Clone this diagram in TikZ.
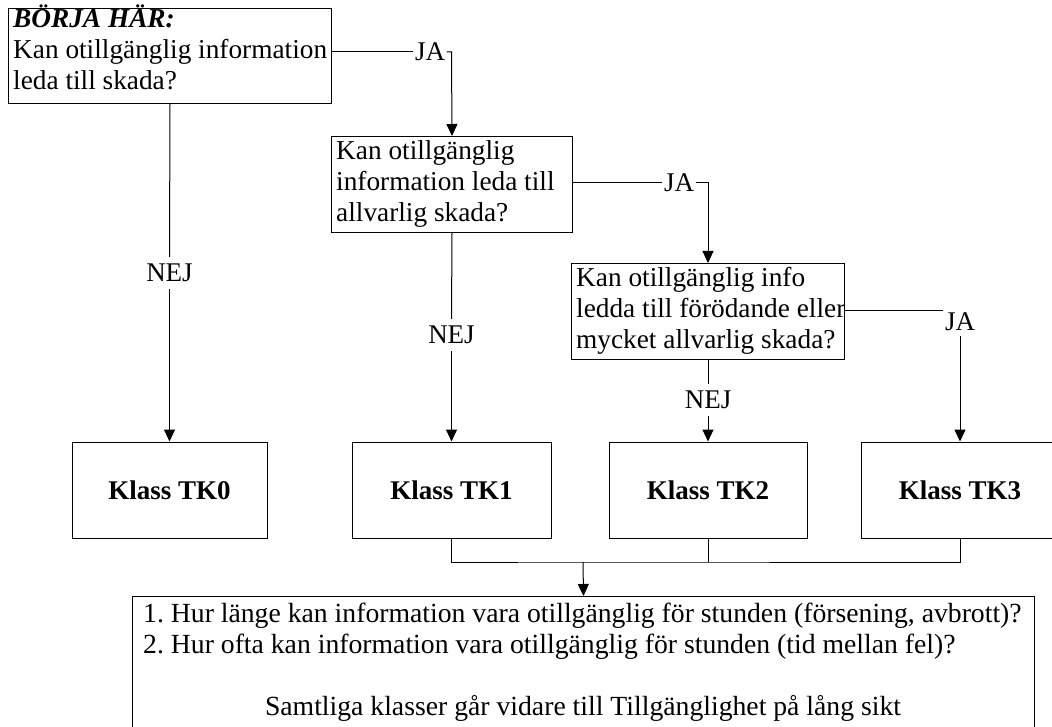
\documentclass[tikz,border=0pt]{standalone}
\usepackage{fontspec}
\setmainfont{Liberation Serif}
\frenchspacing
\usetikzlibrary{arrows.meta}
\tikzset{
  box/.style={draw, line width=1pt, inner sep=0pt, font=\fontsize{27}{31}\selectfont\bfseries},
  txt/.style={align=left, inner sep=0pt, font=\fontsize{27.3}{31}\selectfont},
  lbl/.style={inner xsep=1.5pt, inner ysep=7pt, font=\fontsize{27}{31}\selectfont},
  conn/.style={line width=1pt},
  arr/.style={line width=1pt, -{Triangle[width=11pt,length=12pt]}}
}
\begin{document}
\begin{tikzpicture}[x=1pt,y=-1pt]
\useasboundingbox (0,0) rectangle (1052,727);
\clip (0,0) rectangle (1052,727);
% question boxes
\node[box, minimum width=323pt, minimum height=95pt, anchor=north west] (A) at (8,8) {};
\node[txt, anchor=base west] (At) at (13,90) {\textbf{\textit{BÖRJA HÄR:}}\\Kan otillgänglig information\\leda till skada?};
\node[box, minimum width=241pt, minimum height=96pt, anchor=north west] (B) at (331,136) {};
\node[txt, anchor=base west] (Bt) at (336,222) {Kan otillgänglig\\information leda till\\allvarlig skada?};
\node[box, minimum width=273pt, minimum height=96pt, anchor=north west] (C) at (571,263) {};
\node[txt, anchor=base west] (Ct) at (576,348) {Kan otillgänglig info\\ledda till förödande eller\\mycket allvarlig skada?};
% class boxes
\node[box, minimum width=195pt, minimum height=96pt] (K0) at (169.5,490) {Klass TK0};
\node[box, minimum width=199pt, minimum height=96pt] (K1) at (451.5,490) {Klass TK1};
\node[box, minimum width=198pt, minimum height=96pt] (K2) at (708,490) {Klass TK2};
\node[box, minimum width=198pt, minimum height=96pt] (K3) at (960,490) {Klass TK3};
% bottom box
\node[box, minimum width=902pt, minimum height=150pt, anchor=north west] (D) at (132,596) {};
\node[txt, anchor=base west, font=\fontsize{27.7}{31}\selectfont] (Dt1) at (143,653) {1. Hur länge kan information vara otillgänglig för stunden (försening, avbrott)?\\2. Hur ofta kan information vara otillgänglig för stunden (tid mellan fel)?};
\node[txt, anchor=base, font=\fontsize{27.7}{31}\selectfont] (Dt2) at (583,715) {Samtliga klasser går vidare till Tillgänglighet på lång sikt};
% labels
\node[lbl] (nej0) at (169.5,273) {NEJ};
\node[lbl] (nej1) at (451.5,335) {NEJ};
\node[lbl] (nej2) at (708,400) {NEJ};
\node[lbl, inner ysep=0pt] (jaA) at (430,52) {JA};
\node[lbl, inner ysep=0pt] (jaB) at (679,183) {JA};
\node[lbl, inner xsep=0pt, inner ysep=5pt] (jaC) at (960,322) {JA};
\coordinate (hA) at (451.5,52);
\coordinate (hB) at (708,183);
\coordinate (eC) at (943,311);
\coordinate (j) at (583,562);
% connectors
\draw[conn] (A.east |- jaA) -- (jaA.west);
\draw[arr] (jaA.east) -- (hA) -- (B.north);
\draw[conn] (B.east |- jaB) -- (jaB.west);
\draw[arr] (jaB.east) -- (hB) -- (C.north);
\draw[conn] (C.east |- eC) -- (eC);
\draw[arr] (jaC.south) -- (K3.north);
\draw[conn] (A.south) -- (nej0.north);
\draw[arr] (nej0.south) -- (K0.north);
\draw[conn] (B.south) -- (nej1.north);
\draw[arr] (nej1.south) -- (K1.north);
\draw[conn] (C.south) -- (nej2.north);
\draw[arr] (nej2.south) -- (K2.north);
\draw[conn] (K1.south) |- (j) -| (K3.south);
\draw[conn] (K2.south) -- (K2.south |- j);
\draw[arr] (j) -- (D.north);
\end{tikzpicture}
\end{document}
